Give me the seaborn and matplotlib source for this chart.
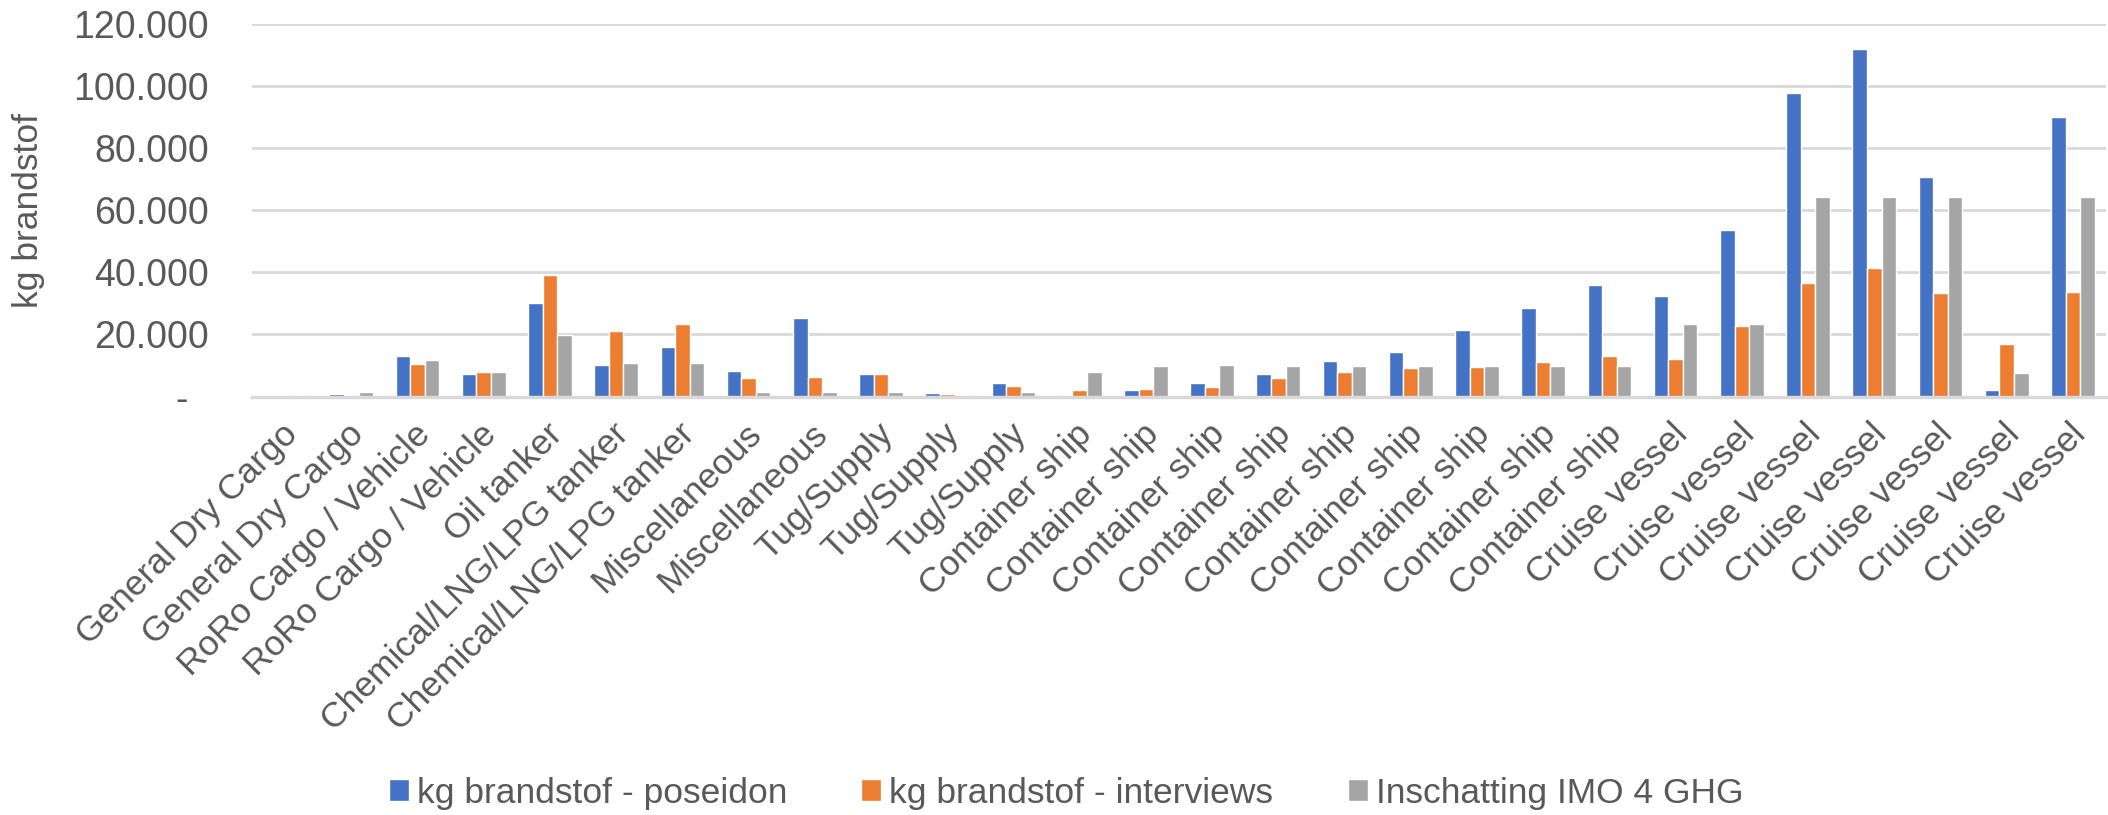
import numpy as np
import pandas as pd
import seaborn as sns
import matplotlib.pyplot as plt
from matplotlib.ticker import FuncFormatter
import matplotlib.transforms as mtransforms

# ship types (one bar group per trip)
ship_types = (["General Dry Cargo"] * 2 + ["RoRo Cargo / Vehicle"] * 2 + ["Oil tanker"]
              + ["Chemical/LNG/LPG tanker"] * 2 + ["Miscellaneous"] * 2 + ["Tug/Supply"] * 3
              + ["Container ship"] * 9 + ["Cruise vessel"] * 7)

poseidon = [300, 650, 13000, 7100, 30200, 10100, 15800, 8150, 25400, 7300, 970, 4300,
            540, 2000, 4200, 7100, 11400, 14300, 21550, 28600, 35900,
            32500, 53600, 97900, 111950, 70670, 2000, 90080]
interviews = [200, 300, 10400, 7800, 39250, 21200, 23300, 5900, 6400, 7100, 750, 3300,
              2000, 2500, 3000, 5900, 8000, 9100, 9550, 11050, 13200,
              12000, 22600, 36500, 41500, 33350, 16800, 33800]
imo_ghg = [400, 1600, 11800, 8000, 19700, 10700, 10700, 1500, 1500, 1500, 430, 1500,
           7900, 9760, 10300, 9760, 9760, 9760, 9760, 9760, 9760,
           23500, 23500, 64450, 64450, 64450, 7700, 64450]

series_names = ["kg brandstof - poseidon", "kg brandstof - interviews", "Inschatting IMO 4 GHG"]
colors = ["#4472C4", "#ED7D31", "#A5A5A5"]

n = len(ship_types)
df = pd.DataFrame({
    "pos": np.tile(np.arange(n), 3),
    "value": poseidon + interviews + imo_ghg,
    "series": np.repeat(series_names, n),
})

sns.set_theme(style="white")
plt.rcParams["font.family"] = ["Liberation Sans", "DejaVu Sans"]
text_col = "#595959"

fig = plt.figure(figsize=(21.08, 8.15), dpi=100)
ax = fig.add_axes([252 / 2108, 1 - 396.5 / 815, (2106 - 252) / 2108, (396.5 - 24.3) / 815])

sns.barplot(data=df, x="pos", y="value", hue="series", palette=colors,
            width=0.66, gap=0, saturation=1, ax=ax, errorbar=None)

ax.set_ylim(0, 120000)
ax.set_yticks(np.arange(0, 120001, 20000))
ax.yaxis.set_major_formatter(FuncFormatter(
    lambda v, p: "-  " if v == 0 else f"{int(v):,}".replace(",", ".")))
ax.tick_params(axis="y", labelsize=27, labelcolor=text_col, length=0, pad=31)
ax.grid(axis="y", color="#d9d9d9", linewidth=2)
ax.set_axisbelow(True)

ax.set_xlim(-0.5, n - 0.5)
ax.set_xticks(np.arange(n))
ax.set_xticklabels(ship_types, rotation=45, ha="right", fontsize=25.5, color=text_col)
ax.tick_params(axis="x", length=0, pad=15)
# excel puts the end of the rotated label a bit right of the category centre
shift = mtransforms.ScaledTranslation(19 / 100, 0, fig.dpi_scale_trans)
for lab in ax.get_xticklabels():
    lab.set_transform(lab.get_transform() + shift)

for s in ["top", "right", "left"]:
    ax.spines[s].set_visible(False)
ax.spines["bottom"].set_color("#d9d9d9")
ax.spines["bottom"].set_linewidth(2.5)

ax.set_xlabel("")
ax.set_ylabel("kg brandstof", fontsize=25.5, color=text_col)
ax.yaxis.set_label_coords(-(252 - 45) / (2106 - 252), 0.5)

handles, labels = ax.get_legend_handles_labels()
ax.get_legend().remove()
fig.legend(handles, labels, loc="center", bbox_to_anchor=(1066 / 2108, 1 - 793 / 815),
           ncol=3, frameon=False, handlelength=0.56, handleheight=0.56,
           handletextpad=0.23, columnspacing=2.1,
           prop={"size": 25.5}, labelcolor=text_col)

fig.savefig("out.png", dpi=100)
